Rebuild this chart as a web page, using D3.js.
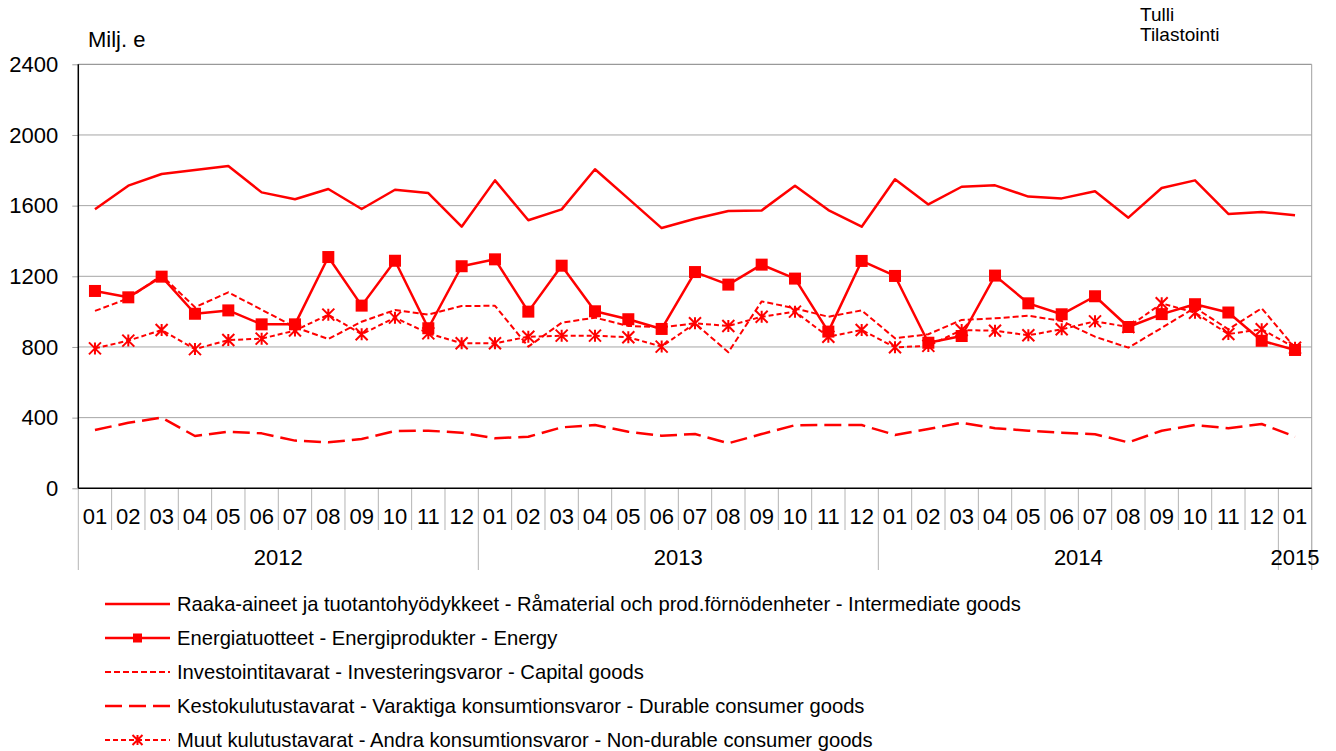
<!DOCTYPE html>
<html>
<head>
<meta charset="utf-8">
<script src="https://cdn.jsdelivr.net/npm/d3@7"></script>
<style>
  body { margin: 0; background: #fff; }
  text { font-family: "Liberation Sans", Arial, sans-serif; fill: #000; }
</style>
</head>
<body>
<svg id="chart" width="1336" height="751"></svg>
<script>
// month labels, 2012-01 .. 2015-01
var months = ["01","02","03","04","05","06","07","08","09","10","11","12",
              "01","02","03","04","05","06","07","08","09","10","11","12",
              "01","02","03","04","05","06","07","08","09","10","11","12",
              "01"];
var yearLabels = ["2012", "2013", "2014", "2015"];
var yearMonths = [12, 12, 12, 1];
var yTicks = [0, 400, 800, 1200, 1600, 2000, 2400];

// series, million euro
var intermediate = [1580,1713,1779,1802,1824,1675,1636,1694,1581,1690,1671,1481,
                    1743,1517,1579,1806,1640,1473,1526,1570,1573,1713,1575,1481,
                    1749,1607,1707,1715,1651,1641,1681,1532,1700,1743,1553,1564,
                    1545];
var energy = [1117,1081,1198,988,1007,928,928,1309,1034,1288,906,1257,
              1296,1000,1260,1002,957,902,1224,1153,1266,1187,887,1287,
              1202,824,862,1204,1047,985,1087,913,986,1042,995,835,
              783];
var capital = [1004,1075,1205,1025,1109,1011,912,845,943,1009,983,1032,
               1033,802,937,966,919,911,934,770,1058,1019,971,1007,
               849,872,953,962,977,947,858,796,908,1022,900,1019,
               795];
var durable = [330,371,400,296,320,311,270,260,279,324,326,315,
               283,292,345,358,320,298,307,255,307,357,358,358,
               302,336,371,340,326,315,306,260,326,358,340,364,
               292];
var nondurable = [792,836,896,788,839,847,893,983,872,966,877,821,
                  821,858,864,864,855,802,934,919,971,1000,858,896,
                  798,806,896,892,866,900,945,913,1047,994,873,900,
                  796];

var series = [
  {name: "Raaka-aineet ja tuotantohyödykkeet - Råmaterial och prod.förnödenheter - Intermediate goods",
   values: intermediate, dash: null, width: 2.5, marker: null},
  {name: "Energiatuotteet - Energiprodukter - Energy",
   values: energy, dash: null, width: 2.5, marker: "square"},
  {name: "Investointitavarat - Investeringsvaror - Capital goods",
   values: capital, dash: "6,3", width: 2, marker: null},
  {name: "Kestokulutustavarat - Varaktiga konsumtionsvaror - Durable consumer goods",
   values: durable, dash: "17,7", width: 2.5, marker: null},
  {name: "Muut kulutustavarat - Andra konsumtionsvaror - Non-durable consumer goods",
   values: nondurable, dash: "5,3", width: 2, marker: "star"}
];

var red = "#ff0000";
var svg = d3.select("#chart");
// plot box (window.top is reserved, so no plain "top")
var plotL = 78.3, plotR = 1311.7, plotT = 64.3, plotB = 488.3;

var x = d3.scaleBand()
  .domain(d3.range(months.length))
  .range([plotL, plotR])
  .padding(0);
var y = d3.scaleLinear().domain([0, 2400]).range([plotB, plotT]);

// gridlines
svg.append("g").selectAll("line")
  .data(yTicks.filter(function(d) { return d > 0; }))
  .join("line")
  .attr("x1", plotL).attr("x2", plotR)
  .attr("y1", function(d) { return y(d); })
  .attr("y2", function(d) { return y(d); })
  .attr("stroke", function(d) { return d === 2400 ? "#808080" : "#a6a6a6"; })
  .attr("stroke-width", 1);

// right border of plot
svg.append("line")
  .attr("x1", plotR).attr("x2", plotR)
  .attr("y1", plotT).attr("y2", 570)
  .attr("stroke", "#a0a0a0");

// y axis
var yAxis = d3.axisLeft(y).tickValues(yTicks).tickFormat(d3.format("d"))
  .tickSize(6).tickPadding(14);
var gy = svg.append("g").attr("transform", "translate(" + plotL + ",0)").call(yAxis);
gy.select(".domain").remove();
gy.selectAll(".tick line").attr("stroke", "#a0a0a0");
gy.selectAll(".tick text").style("font-size", "22px").attr("fill", "#000")
  .style("font-family", "Liberation Sans, Arial, sans-serif");
svg.append("line")
  .attr("x1", plotL).attr("x2", plotL).attr("y1", plotT).attr("y2", plotB)
  .attr("stroke", "#000").attr("stroke-width", 1.5);

// category separators below the axis
var bw = x.bandwidth();
var starts = [0];
yearMonths.forEach(function(n, i) { starts.push(starts[i] + n); });
svg.append("g").selectAll("line")
  .data(d3.range(months.length + 1))
  .join("line")
  .attr("x1", function(i) { return plotL + i * bw; })
  .attr("x2", function(i) { return plotL + i * bw; })
  .attr("y1", plotB)
  .attr("y2", function(i) { return starts.indexOf(i) >= 0 ? 570 : 530; })
  .attr("stroke", "#b4b4b4");

// month labels
svg.append("g").selectAll("text")
  .data(months)
  .join("text")
  .attr("x", function(d, i) { return x(i) + bw / 2; })
  .attr("y", 516)
  .attr("dy", "0.35em")
  .attr("text-anchor", "middle")
  .style("font-size", "22px")
  .text(function(d) { return d; });

// year labels
svg.append("g").selectAll("text")
  .data(yearLabels)
  .join("text")
  .attr("x", function(d, i) { return plotL + (starts[i] + yearMonths[i] / 2) * bw; })
  .attr("y", 557)
  .attr("dy", "0.35em")
  .attr("text-anchor", "middle")
  .style("font-size", "22px")
  .text(function(d) { return d; });

// x axis line
svg.append("line")
  .attr("x1", plotL).attr("x2", plotR).attr("y1", plotB).attr("y2", plotB)
  .attr("stroke", "#000").attr("stroke-width", 1.5);

// lines
var line = d3.line()
  .x(function(d, i) { return x(i) + bw / 2; })
  .y(function(d) { return y(d); });

function starPath(s) {
  return "M" + (-s) + "," + (-s) + "L" + s + "," + s +
         "M" + (-s) + "," + s + "L" + s + "," + (-s) +
         "M0," + (-s) + "L0," + s;
}

function drawMarker(g, type, size) {
  if (type === "square") {
    g.append("rect")
      .attr("x", -size / 2).attr("y", -size / 2)
      .attr("width", size).attr("height", size)
      .attr("fill", red);
  } else if (type === "star") {
    g.append("path").attr("d", starPath(size / 2))
      .attr("stroke", red).attr("stroke-width", 2).attr("fill", "none");
  }
}

series.forEach(function(s) {
  svg.append("path")
    .datum(s.values)
    .attr("d", line)
    .attr("fill", "none")
    .attr("stroke", red)
    .attr("stroke-width", s.width)
    .attr("stroke-dasharray", s.dash)
    .attr("stroke-linejoin", "round");
  if (s.marker) {
    s.values.forEach(function(v, i) {
      var g = svg.append("g")
        .attr("transform", "translate(" + (x(i) + bw / 2) + "," + y(v) + ")");
      drawMarker(g, s.marker, 12);
    });
  }
});

// axis title and source
svg.append("text").attr("x", 88).attr("y", 47)
  .style("font-size", "22px").text("Milj. e");
svg.append("text").attr("x", 1140).attr("y", 21)
  .style("font-size", "19px").text("Tulli");
svg.append("text").attr("x", 1140).attr("y", 41)
  .style("font-size", "19px").text("Tilastointi");

// legend
var legend = svg.append("g").selectAll("g")
  .data(series)
  .join("g")
  .attr("transform", function(d, i) { return "translate(0," + (604 + i * 34) + ")"; });
legend.append("line")
  .attr("x1", 105).attr("x2", 170)
  .attr("stroke", red)
  .attr("stroke-width", function(d) { return d.width; })
  .attr("stroke-dasharray", function(d) { return d.dash; });
legend.each(function(d) {
  if (d.marker) {
    var g = d3.select(this).append("g").attr("transform", "translate(137.5,0)");
    drawMarker(g, d.marker, d.marker === "square" ? 9 : 10);
  }
});
legend.append("text")
  .attr("x", 177).attr("dy", "0.35em")
  .style("font-size", "20.2px")
  .text(function(d) { return d.name; });
</script>
</body>
</html>
